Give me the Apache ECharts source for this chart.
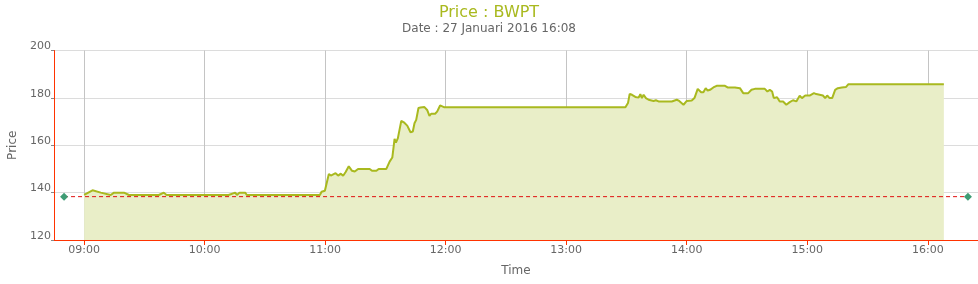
<!DOCTYPE html>
<html>
<head>
<meta charset="utf-8">
<script src="https://cdn.jsdelivr.net/npm/echarts@6/dist/echarts.min.js"></script>
<style>
html,body{margin:0;padding:0;background:#fff;}
#chart{width:978px;height:284px;}
</style>
</head>
<body>
<div id="chart"></div>
<script>
var DAY = '2016-01-27 ';
var times = ['09:00:00','09:04:10','09:08:17','09:13:14','09:14:53','09:19:50','09:22:19','09:37:11','09:39:40','09:41:00',
'10:11:54','10:15:13','10:16:04','10:17:21','10:20:11','10:21:00','10:57:22','10:58:13','10:59:51','11:01:50',
'11:02:50','11:05:10','11:06:27','11:07:47','11:08:56','11:10:07','11:11:45','11:13:23','11:14:43','11:16:22',
'11:22:10','11:23:19','11:25:30','11:26:38','11:30:27','11:32:05','11:33:25','11:34:33','11:35:13','11:36:12',
'11:37:53','11:39:10','11:40:51','11:42:29','11:43:38','11:44:28','11:45:19','11:46:27','11:47:27','11:48:06',
'11:49:26','11:50:46','11:51:55','11:52:45','11:54:44','11:55:44','11:57:13','11:58:12','11:59:22','13:29:28',
'13:30:45','13:31:36','13:32:44','13:33:34','13:34:25','13:35:13','13:36:03','13:36:54','13:37:41','13:38:32',
'13:39:40','13:41:00','13:43:29','13:44:38','13:45:58','13:52:34','13:55:03','13:56:15','13:58:23','14:00:01',
'14:02:29','14:03:50','14:05:28','14:07:09','14:08:17','14:09:26','14:10:25','14:11:36','14:13:15','14:14:53',
'14:19:03','14:20:20','14:24:00','14:24:48','14:26:29','14:28:07','14:30:36','14:32:14','14:33:55','14:37:11',
'14:38:02','14:38:52','14:40:09','14:41:21','14:42:30','14:43:20','14:44:58','14:46:18','14:47:57','14:49:35',
'14:51:16','14:52:54','14:54:33','14:56:14','14:57:22','14:59:00','15:01:11','15:03:19','15:04:28','15:06:09',
'15:07:47','15:08:56','15:09:55','15:11:07','15:12:24','15:13:53','15:15:13','15:16:12','15:17:12','15:19:20',
'15:20:31','16:08:00'];
var prices = [139,141,140,139,140,140,139,139,140,139,
139,140,139,140,140,139,139,140.4,140.8,147.9,
147.2,148.2,147.2,148,147.1,148.6,151.1,149.2,148.9,150,
150,149.2,149.2,150,150,153.1,154.8,162.7,161.1,163,
170.3,169.7,168.3,165.5,165.8,169.3,170.7,175.7,175.9,175.4,
176.1,174.9,172.4,173.3,173.3,174.2,176.8,176.8,176,176,
177.8,181.7,181.3,182,180.4,181,180.1,181.6,179.9,181.3,
179.9,179.2,178.7,179,178.5,178.5,179.2,178.7,177.1,178.7,
178.9,179.9,183.8,182.4,182.4,184.1,183.1,183.4,184.4,185.1,
185.1,184.4,184.4,184.8,184.1,182,182,183.4,183.8,183.8,
183,183.8,182.7,183.4,182.7,179.9,180.3,178.5,178.5,177.1,
178.2,179,178.5,180.9,179.9,181,181,182,181.6,181.3,
181,179.9,181,179.9,179.9,183.4,184.1,183.4,184.4,184.6,
185.8,185.8];
var refTimes = ['08:50:00','16:20:00'];
var refPrice = [138.3,138.3];
var yTicks = [120,140,160,180,200];
var titleText = 'Price : BWPT';
var subText = 'Date : 27 Januari 2016 16:08';

var axisStart = DAY + '08:45:00';
var axisEnd = DAY + '16:25:00';

var priceData = times.map(function(t,i){return [DAY + t, prices[i]];});
var refData = refTimes.map(function(t,i){return [DAY + t, refPrice[i]];});

var FONT = 'DejaVu Sans';
var chart = echarts.init(document.getElementById('chart'), null, {renderer:'canvas'});
function pad(n){return (n<10?'0':'')+n;}
chart.setOption({
  animation:false,
  backgroundColor:'#fff',
  title:{
    text:titleText, subtext:subText, left:'center', top:0, itemGap:2,
    textStyle:{fontFamily:FONT, fontSize:16, fontWeight:'normal', color:'#a9b91f'},
    subtextStyle:{fontFamily:FONT, fontSize:12, color:'#666'}
  },
  grid:{left:54, right:0, top:50.5, bottom:44, containLabel:false, outerBoundsMode:'none'},
  xAxis:{
    type:'time', min:axisStart, max:axisEnd,
    minInterval:3600000, maxInterval:3600000,
    name:'Time', nameLocation:'middle', nameGap:25,
    nameTextStyle:{fontFamily:FONT, fontSize:12, color:'#666'},
    axisLine:{show:true, lineStyle:{color:'#ff3300', width:1}},
    axisTick:{show:true, length:5, lineStyle:{color:'#ff3300'}},
    axisLabel:{fontFamily:FONT, fontSize:11, color:'#666', margin:5, showMinLabel:false, showMaxLabel:false,
      formatter:function(v){var d=new Date(v);return pad(d.getHours())+':'+pad(d.getMinutes());}},
    splitLine:{show:true, lineStyle:{color:'#c4c4c4', width:1}}
  },
  yAxis:{
    type:'value', min:yTicks[0], max:yTicks[yTicks.length-1], interval:20,
    name:'Price', nameLocation:'middle', nameGap:33, nameRotate:90,
    nameTextStyle:{fontFamily:FONT, fontSize:12, color:'#666'},
    axisLine:{show:true, lineStyle:{color:'#ff3300', width:1}},
    axisTick:{show:true, length:3, lineStyle:{color:'#888'}},
    axisLabel:{fontFamily:FONT, fontSize:11, color:'#666', margin:3, verticalAlign:'bottom', lineHeight:8},
    splitLine:{show:true, lineStyle:{color:'#dcdcdc', width:1}}
  },
  series:[
    {
      type:'line', data:priceData, showSymbol:false, symbol:'none',
      lineStyle:{color:'#a9b91f', width:2},
      areaStyle:{color:'#e9eec8', opacity:1, origin:'start'},
      z:2
    },
    {
      type:'line', data:refData, symbol:'diamond', symbolSize:8, showSymbol:true,
      itemStyle:{color:'#3e9c74'},
      lineStyle:{color:'#e01010', width:1, type:[4,3]},
      z:3
    }
  ]
});
</script>
</body>
</html>
